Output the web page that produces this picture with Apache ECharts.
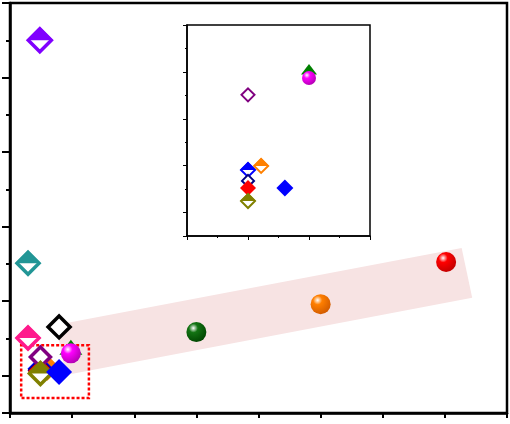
<!DOCTYPE html>
<html lang="en">
<head>
<meta charset="UTF-8">
<title>scatter with inset</title>
<script src="https://cdn.jsdelivr.net/npm/echarts@6/dist/echarts.min.js"></script>
<style>
    body { margin: 0; background: #fff; }
    #main { width: 510px; height: 424px; }
</style>
</head>
<body>
<div id="main"></div>
<script>
// main panel points (draw order = list order)
var mainNames = ['purpleHalf', 'tealHalf', 'pinkHalf', 'blackOpen', 'orangeHalf', 'blueHalf', 'navyOpen', 'redDiamond', 'purpleOpen', 'oliveHalf', 'blueDiamond', 'greenTri', 'magentaBall', 'greenBall', 'orangeBall', 'redBall'];
var mainX = [0.48, 0.29, 0.29, 0.79, 0.60, 0.49, 0.49, 0.49, 0.49, 0.49, 0.79, 0.98, 0.98, 3.0, 5.0, 7.02];
var mainY = [10.0, 4.02, 2.01, 2.31, 1.21, 1.19, 1.15, 1.12, 1.50, 1.06, 1.10, 1.58, 1.60, 2.17, 2.92, 4.05];

// inset (zoom of the dotted box)
var insetNames = ['purpleOpen', 'greenTri', 'magentaBall', 'orangeHalf', 'blueHalf', 'navyOpen', 'redDiamond', 'oliveHalf', 'blueDiamond'];
var insetX = [2.0, 4.0, 4.0, 2.43, 2.0, 2.0, 2.0, 2.0, 3.21];
var insetY = [6.02, 6.91, 6.74, 2.99, 2.82, 2.35, 2.05, 1.49, 2.05];

// shaded trend band corners and dotted box (main axes units)
var bandX = [0.74, 7.27, 7.44, 0.90];
var bandY = [2.36, 4.43, 3.09, 1.02];
var boxX = [0.18, 1.27];
var boxY = [0.40, 1.82];

var styles = {
    purpleHalf: { kind: 'half', color: '#8000ff' },
    tealHalf: { kind: 'half', color: '#229696' },
    pinkHalf: { kind: 'half', color: '#ff1a8c' },
    blackOpen: { kind: 'open', color: '#000000' },
    purpleOpen: { kind: 'open', color: '#800080' },
    greenTri: { kind: 'tri', color: '#008000' },
    magentaBall: { kind: 'ball', color: '#ff00ff', dark: '#b000b0' },
    orangeHalf: { kind: 'half', color: '#ff8000' },
    blueHalf: { kind: 'half', color: '#0000ff' },
    navyOpen: { kind: 'open', color: '#000080' },
    redDiamond: { kind: 'solid', color: '#ff0000' },
    oliveHalf: { kind: 'half', color: '#808000' },
    blueDiamond: { kind: 'solid', color: '#0000ff' },
    greenBall: { kind: 'ball', color: '#137313', dark: '#004400' },
    orangeBall: { kind: 'ball', color: '#ff7f00', dark: '#d05a00' },
    redBall: { kind: 'ball', color: '#ff0000', dark: '#c00000' }
};

function markerSeries(name, x, y, size, bw, xi, yi, z) {
    var st = styles[name];
    var base = { type: 'scatter', xAxisIndex: xi, yAxisIndex: yi, z: z, data: [[x, y]], silent: true, animation: false };
    var outer = size + bw;
    var out = [];
    if (st.kind === 'half' || st.kind === 'open') {
        out.push(Object.assign({}, base, {
            symbol: 'diamond', symbolSize: size,
            itemStyle: { color: '#fff', borderColor: st.color, borderWidth: bw, opacity: 1 }
        }));
    }
    if (st.kind === 'half') {
        out.push(Object.assign({}, base, {
            symbol: 'path://M0,1L1,0L2,1Z', symbolSize: [outer, outer / 2], symbolOffset: [0, -outer / 4],
            itemStyle: { color: st.color, opacity: 1 }
        }));
    }
    if (st.kind === 'tri') {
        out.push(Object.assign({}, base, {
            symbol: 'path://M0,1L1,0L2,1Z', symbolSize: [outer, outer * 0.65], symbolOffset: [0, -outer * 0.3],
            itemStyle: { color: st.color, opacity: 1 }
        }));
    }
    if (st.kind === 'solid') {
        out.push(Object.assign({}, base, {
            symbol: 'diamond', symbolSize: outer,
            itemStyle: { color: st.color, opacity: 1 }
        }));
    }
    if (st.kind === 'ball') {
        out.push(Object.assign({}, base, {
            symbol: 'circle', symbolSize: size,
            itemStyle: {
                opacity: 1,
                color: {
                    type: 'radial', x: 0.35, y: 0.3, r: 0.75,
                    colorStops: [
                        { offset: 0, color: '#ffffff' },
                        { offset: 0.3, color: st.color },
                        { offset: 1, color: st.dark }
                    ]
                }
            }
        }));
    }
    return out;
}

// sizes: [symbolSize, borderWidth]
var mainSize = {
    purpleHalf: [23, 3.5], tealHalf: [22, 3.5], pinkHalf: [22, 3.5], blackOpen: [22, 3.5], purpleOpen: [20, 3.5],
    orangeHalf: [21, 3.5], blueHalf: [21, 3.5], navyOpen: [21, 3.5], redDiamond: [22, 3], oliveHalf: [22, 3.5],
    blueDiamond: [23, 3], greenTri: [20, 3], magentaBall: [20, 0], greenBall: [20, 0], orangeBall: [20, 0], redBall: [20, 0]
};
var insetSize = {
    purpleOpen: [13, 2], greenTri: [14, 2], magentaBall: [14, 0], orangeHalf: [14, 2], blueHalf: [14, 2],
    navyOpen: [12, 2], redDiamond: [14, 2], oliveHalf: [14, 2], blueDiamond: [15, 2]
};

var series = [];

// pink band
series.push({
    type: 'custom', xAxisIndex: 0, yAxisIndex: 0, z: 1, silent: true, animation: false,
    data: [[0, 0]],
    renderItem: function (params, api) {
        var pts = bandX.map(function (x, i) { return api.coord([x, bandY[i]]); });
        return { type: 'polygon', shape: { points: pts }, style: { fill: '#f7e3e3' } };
    }
});
// dotted zoom box
series.push({
    type: 'custom', xAxisIndex: 0, yAxisIndex: 0, z: 1, silent: true, animation: false,
    data: [[0, 0]],
    renderItem: function (params, api) {
        var p0 = api.coord([boxX[0], boxY[1]]);
        var p1 = api.coord([boxX[1], boxY[0]]);
        return {
            type: 'rect',
            shape: { x: p0[0], y: p0[1], width: p1[0] - p0[0], height: p1[1] - p0[1] },
            style: { fill: 'none', stroke: '#ff0000', lineWidth: 2.5, lineDash: [3, 2] }
        };
    }
});

mainNames.forEach(function (n, i) {
    series = series.concat(markerSeries(n, mainX[i], mainY[i], mainSize[n][0], mainSize[n][1], 0, 0, 2));
});
insetNames.forEach(function (n, i) {
    series = series.concat(markerSeries(n, insetX[i], insetY[i], insetSize[n][0], insetSize[n][1], 1, 2, 6));
});

var option = {
    animation: false,
    grid: [
        { left: 10, right: 3, top: 3, bottom: 11, show: true, borderColor: '#000', borderWidth: 2.5, backgroundColor: '#fff' },
        { left: 187, top: 25, width: 183, height: 211, show: true, borderColor: '#000', borderWidth: 1.5, backgroundColor: '#fff', z: 3 }
    ],
    xAxis: [
        {
            gridIndex: 0, type: 'value', min: 0, max: 8, interval: 1,
            axisLine: { lineStyle: { color: '#000', width: 2.5 } },
            axisTick: { length: 5, lineStyle: { color: '#000', width: 2 } },
            axisLabel: { show: false }, splitLine: { show: false }
        },
        {
            gridIndex: 1, type: 'value', min: 0, max: 6, interval: 2, z: 4,
            axisLine: { lineStyle: { color: '#000', width: 1.5 } },
            axisTick: { length: 4, lineStyle: { color: '#000', width: 1 } },
            minorTick: { show: true, splitNumber: 2, length: 2, lineStyle: { color: '#000', width: 1 } },
            axisLabel: { show: false }, splitLine: { show: false }
        }
    ],
    yAxis: [
        {
            gridIndex: 0, type: 'value', min: 0, max: 11, interval: 1,
            axisLine: { lineStyle: { color: '#000', width: 2.5 } },
            axisTick: { length: 4, lineStyle: { color: '#000', width: 2 } },
            axisLabel: { show: false }, splitLine: { show: false }
        },
        {
            gridIndex: 0, type: 'value', position: 'left', inverse: true, min: 0, max: 11, interval: 2,
            axisLine: { show: false },
            axisTick: { length: 8, lineStyle: { color: '#000', width: 2 } },
            axisLabel: { show: false }, splitLine: { show: false }
        },
        {
            gridIndex: 1, type: 'value', min: 0, max: 9, interval: 1, z: 4,
            axisLine: { lineStyle: { color: '#000', width: 1.5 } },
            axisTick: { length: 2, lineStyle: { color: '#000', width: 1 } },
            axisLabel: { show: false }, splitLine: { show: false }
        },
        {
            gridIndex: 1, type: 'value', position: 'left', inverse: true, min: 0, max: 9, interval: 2, z: 4,
            axisLine: { show: false },
            axisTick: { length: 4, lineStyle: { color: '#000', width: 1 } },
            axisLabel: { show: false }, splitLine: { show: false }
        }
    ],
    series: series
};

var chart = echarts.init(document.getElementById('main'));
chart.setOption(option);
</script>
</body>
</html>
